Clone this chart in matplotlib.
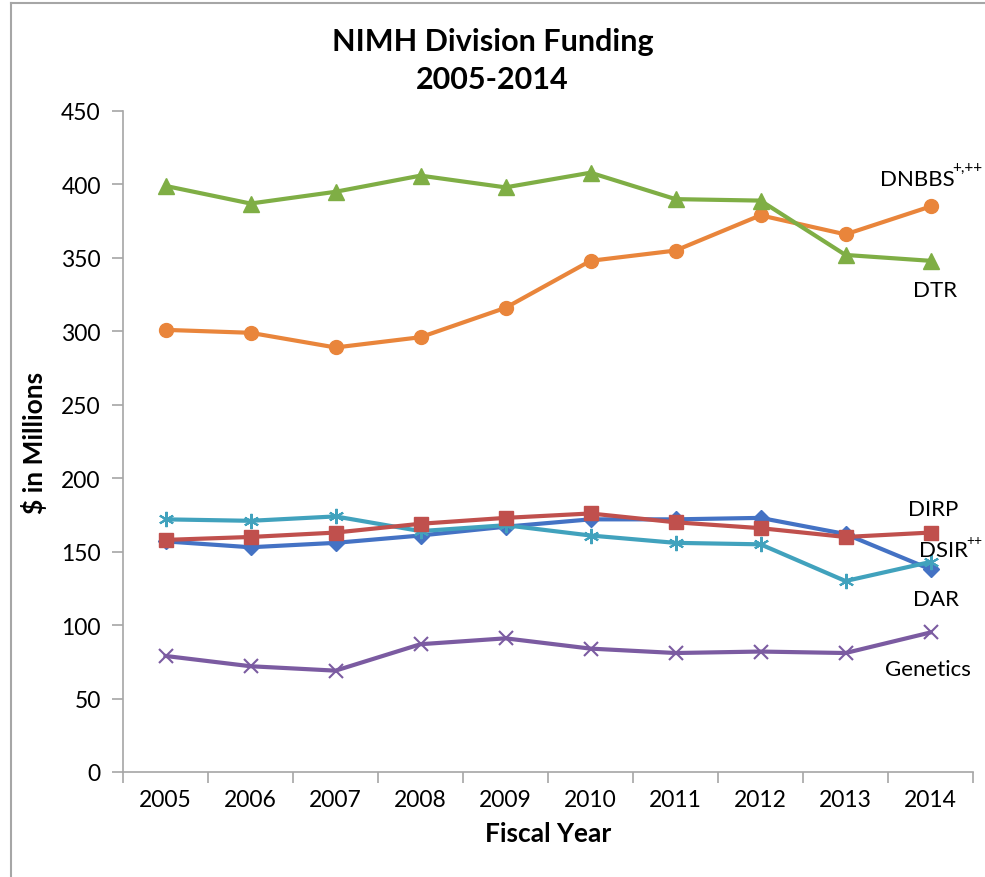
import matplotlib.pyplot as plt
from matplotlib.lines import Line2D
import numpy as np

plt.rcParams['font.family'] = ['Lato', 'DejaVu Sans']

years = ["2005", "2006", "2007", "2008", "2009", "2010", "2011", "2012", "2013", "2014"]
dtr = [399, 387, 395, 406, 398, 408, 390, 389, 352, 348]
dnbbs = [301, 299, 289, 296, 316, 348, 355, 379, 366, 385]
dsir = [172, 171, 174, 164, 168, 161, 156, 155, 130, 143]
dirp = [158, 160, 163, 169, 173, 176, 170, 166, 160, 163]
dar = [157, 153, 156, 161, 167, 172, 172, 173, 162, 138]
genetics = [79, 72, 69, 87, 91, 84, 81, 82, 81, 95]

fig = plt.figure(figsize=(9.85, 8.78), dpi=100)
ax = fig.add_axes([123 / 985, 1 - 773 / 878, 850 / 985, 661 / 878])

x = np.arange(len(years))
ax.plot(x, dar, color="#4472C4", lw=3, marker="D", ms=8, zorder=3)
ax.plot(x, dirp, color="#C0504D", lw=3, marker="s", ms=10, zorder=4)
ax.plot(x, dnbbs, color="#E9853B", lw=3, marker="o", ms=10, zorder=3)
ax.plot(x, dtr, color="#7FAE45", lw=3, marker="^", ms=11, zorder=3)
ax.plot(x, dsir, color="#41A2BD", lw=3, marker=(6, 2, 0), ms=11, mew=1.5, zorder=3)
ax.plot(x, genetics, color="#7B5BA1", lw=3, marker="x", ms=10, mew=1.5, zorder=3)

ax.set_xlim(-0.5, len(years) - 0.5)
ax.set_ylim(0, 450)
ax.set_yticks(range(0, 451, 50))
ax.set_xticks(x)
ax.set_xticklabels(years)
ax.set_xticks(np.arange(-0.5, len(years), 1), minor=True)
ax.tick_params(axis="x", which="major", length=0, labelsize=16.5, pad=12)
ax.tick_params(axis="x", which="minor", length=8, color="#A6A6A6", width=1.2)
ax.tick_params(axis="y", length=8, color="#A6A6A6", width=1.2, labelsize=16.5, pad=8)
for s in ["top", "right"]:
    ax.spines[s].set_visible(False)
for s in ["left", "bottom"]:
    ax.spines[s].set_color("#A6A6A6")
    ax.spines[s].set_linewidth(1.2)

ax.set_xlabel("Fiscal Year", fontsize=19, fontweight="bold", labelpad=8)
ax.set_ylabel("$ in Millions", fontsize=19, fontweight="bold", labelpad=10)
fig.text(0.5, 1 - 42 / 878, "NIMH Division Funding", ha="center", va="center",
         fontsize=22, fontweight="bold")
fig.text(0.5, 1 - 80 / 878, "2005-2014", ha="center", va="center",
         fontsize=22, fontweight="bold")

# series labels: (text, x, y, size)
labels = [("DNBBS", 8.41, 404, 16), ("+,++", 9.26, 412, 11),
          ("DTR", 8.79, 328, 16),
          ("DIRP", 8.73, 179, 16),
          ("DSIR", 8.86, 151, 16), ("++", 9.42, 158, 10),
          ("DAR", 8.79, 118, 16),
          ("Genetics", 8.46, 70, 16)]
for text, lx, ly, fs in labels:
    ax.text(lx, ly, text, ha="left", va="center", fontsize=fs, zorder=5)

# chart-area frame (left and top edges visible)
fig.add_artist(Line2D([11 / 985, 11 / 985], [0, 1 - 4 / 878], transform=fig.transFigure,
                      color="#A6A6A6", lw=1.5))
fig.add_artist(Line2D([11 / 985, 1], [1 - 4 / 878, 1 - 4 / 878], transform=fig.transFigure,
                      color="#A6A6A6", lw=1.5))

fig.savefig("out.png", dpi=100)
